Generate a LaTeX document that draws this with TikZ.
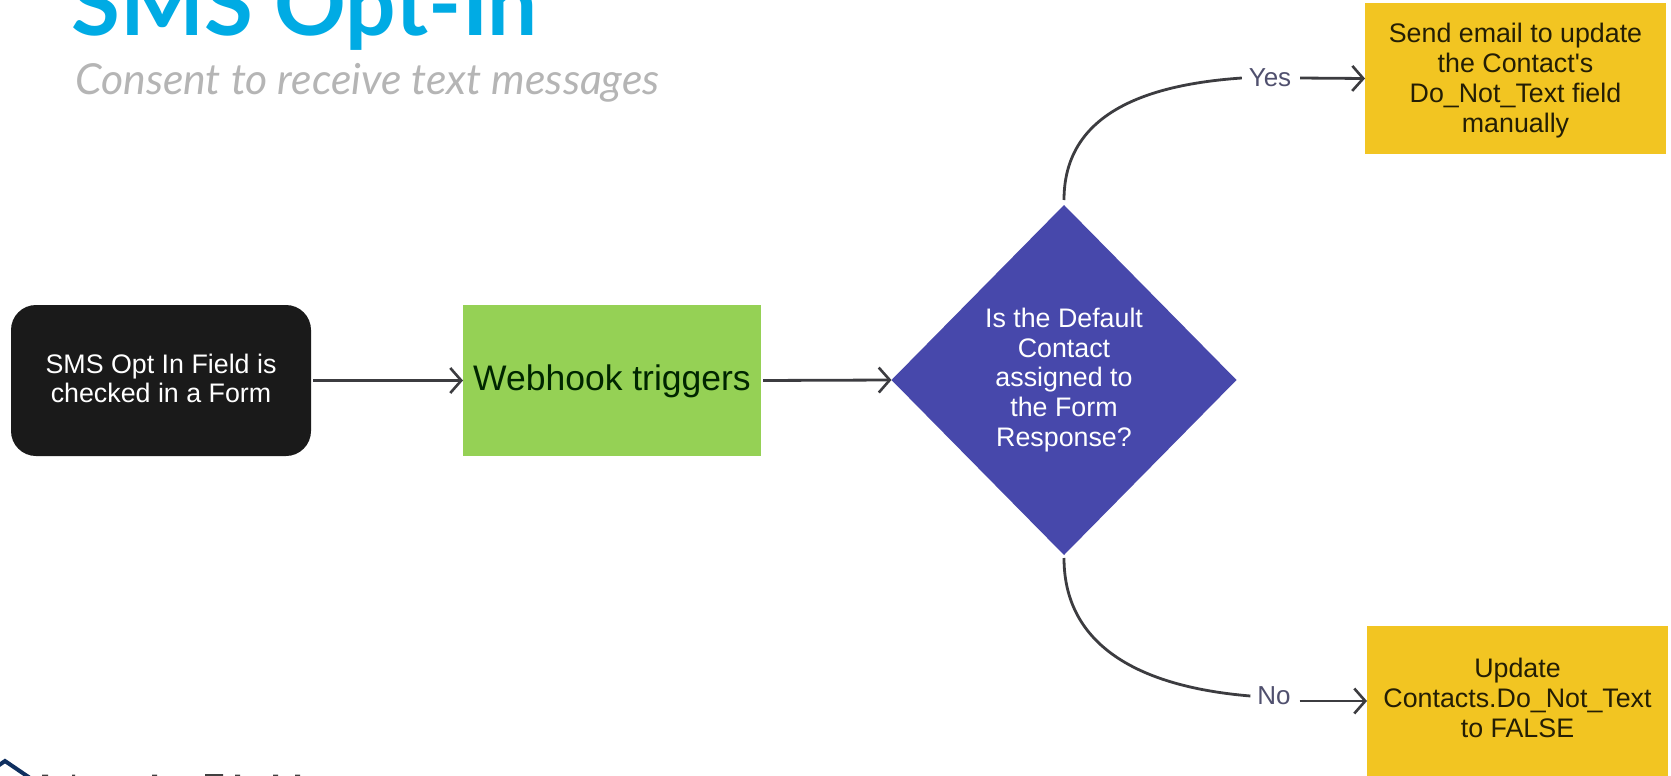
\documentclass[tikz,border=0pt]{standalone}
\usepackage{fontspec}
\setmainfont{Liberation Sans}
\newfontfamily\plainf{Liberation Sans}
\newfontfamily\latof{Lato}
\usetikzlibrary{shapes.geometric,arrows.meta}
\definecolor{titleblue}{HTML}{00ABE4}
\definecolor{subgrey}{HTML}{B5B5B5}
\definecolor{blackbox}{HTML}{1A1A1A}
\definecolor{greenbox}{HTML}{95D155}
\definecolor{purplebox}{HTML}{4748AB}
\definecolor{yellowbox}{HTML}{F2C522}
\definecolor{linegrey}{HTML}{3C3C40}
\definecolor{labelgrey}{HTML}{50506E}
\definecolor{navy}{HTML}{0F2F5F}
\newcommand\vshifted[2]{\raisebox{\dimexpr#1-2.5pt\relax}[0pt][0pt]{\begin{tabular}{@{}c@{}}#2\end{tabular}}}
\tikzset{
  x=1pt,y=-1pt,
  boxtext/.style={align=center,font=\fontsize{26.8}{30}\selectfont,inner sep=0pt,outer sep=0pt,anchor=north west},
  blackstyle/.style={boxtext,fill=blackbox,text=white,font=\fontsize{26.8}{29}\selectfont,rounded corners=25pt,minimum width=300pt,minimum height=151pt},
  greenstyle/.style={boxtext,fill=greenbox,text=black!85!green,font=\fontsize{35.5}{40}\selectfont,minimum width=298pt,minimum height=151pt},
  yellowstyle/.style={boxtext,fill=yellowbox,text=black!85!yellowbox,minimum width=301pt,minimum height=150pt},
  purplestyle/.style={diamond,fill=purplebox,text=white,align=center,font=\fontsize{26.8}{29.7}\selectfont,inner sep=0pt,outer sep=0pt,minimum width=345pt,minimum height=350pt,aspect=1},
  edgelabel/.style={font=\fontsize{26}{30}\selectfont,text=labelgrey,inner ysep=0pt,inner xsep=7pt,outer sep=0pt},
  link/.style={draw=linegrey,line width=2.8pt},
  linkarrow/.style={link,shorten <=2pt,-{Straight Barb[length=11pt,width=25pt,line width=2.6pt]}},
}
\begin{document}
\begin{tikzpicture}
\path[use as bounding box,fill=white] (0,0) rectangle (1671,776);
\clip (0,0) rectangle (1671,776);
% title
\node[anchor=base west,inner sep=0pt,text=titleblue,font=\latof\bfseries\fontsize{89}{90}\selectfont] (title) at (71,35.5) {SMS Opt-In};
\node[anchor=base west,inner sep=0pt,text=subgrey,font=\latof\itshape\fontsize{42.7}{44}\selectfont] (subtitle) at (75,94) {Consent to receive text messages};
% boxes
\node[blackstyle] (form) at (11,305) {\vshifted{-5.5pt}{SMS Opt In Field is\\checked in a Form}};
\node[greenstyle] (hook) at (463,305) {\vshifted{-5.5pt}{Webhook triggers}};
\node[purplestyle] (dec) at (1064,380) {Is the Default\\Contact\\assigned to\\the Form\\Response?};
\node[yellowstyle] (mail) at (1365,3.5) {\vshifted{-6.5pt}{Send email to update\\the Contact{\plainf '}s\\Do\_Not\_Text field\\manually}};
\node[yellowstyle] (upd) at (1367,626) {\vshifted{-4.5pt}{Update\\Contacts.Do\_Not\_Text\\to FALSE}};
% labels
\node[edgelabel] (yes) at (1270,78) {Yes};
\node[edgelabel] (no) at (1274,696) {No};
% connectors
\draw[linkarrow] (form.east) -- (hook.west);
\draw[linkarrow] (hook.east) -- (dec.west);
\draw[link,shorten <=5pt] (dec.north) .. controls (1064,125) and (1125,86) .. (yes.west);
\draw[linkarrow] (yes.east) -- (mail.west);
\draw[link,shorten <=3pt] (dec.south) .. controls (1064,640) and (1130,686) .. (no.west);
\draw[linkarrow] (no.east |- upd.west) -- (upd.west);
% logo fragment
\draw[navy,line width=4pt,miter limit=4] (-8,770) -- (5,761) -- (30,778);
\fill[black!75] (42,774.5) rectangle (48,776) (72,774.5) rectangle (75,776)
  (152,774.5) rectangle (157,776) (205,774) rectangle (223,776) (235,774.5) rectangle (240,776) (273,774.5) rectangle (278,776) (295,774.5) rectangle (300,776);
\end{tikzpicture}
\end{document}
